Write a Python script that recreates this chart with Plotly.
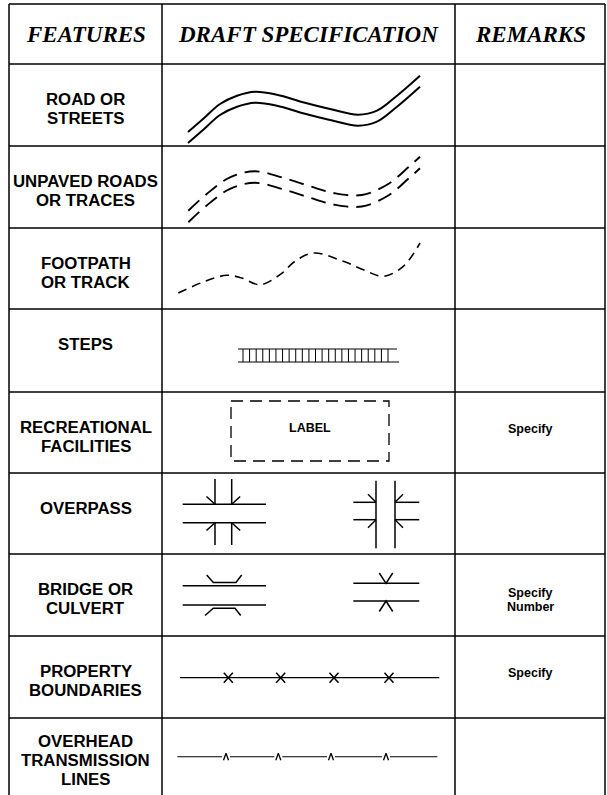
import plotly.graph_objects as go

# ---------------- data ----------------
HEADERS = ["FEATURES", "DRAFT SPECIFICATION", "REMARKS"]
FEATURES = [
    ["ROAD OR", "STREETS"],
    ["UNPAVED ROADS", "OR TRACES"],
    ["FOOTPATH", "OR TRACK"],
    ["STEPS"],
    ["RECREATIONAL", "FACILITIES"],
    ["OVERPASS"],
    ["BRIDGE OR", "CULVERT"],
    ["PROPERTY", "BOUNDARIES"],
    ["OVERHEAD", "TRANSMISSION", "LINES"],
]
REMARKS = [[], [], [], [], ["Specify"], [], ["Specify", "Number"], ["Specify"], []]
SYMBOLS = ["road", "unpaved", "footpath", "steps", "recreation",
           "overpass", "bridge", "property", "overhead"]
BOX_LABEL = "LABEL"

# ---------------- layout geometry (page pixels) ----------------
W, H = 607, 795
COL_X = [9, 162, 455, 605]
ROW_Y = [4, 64, 146, 228, 309, 392, 473, 554, 636, 718]
BOTTOM = 800

traces = []
shapes = []
annotations = []


def seg(x0, y0, x1, y1, w=1.4):
    shapes.append(dict(type="line", xref="x", yref="y", x0=x0, y0=y0, x1=x1, y1=y1,
                       line=dict(color="black", width=w)))


def poly(xs, ys, w=1.4, dash="solid", spline=False):
    traces.append(go.Scatter(x=xs, y=ys, mode="lines", hoverinfo="skip",
                             line=dict(color="black", width=w, dash=dash,
                                       shape="spline" if spline else "linear",
                                       smoothing=1.0)))


def text(x, y, s, size, family="Liberation Sans", color="black"):
    annotations.append(dict(x=x, y=y, xref="x", yref="y", text=s, showarrow=False,
                            xanchor="center", yanchor="middle",
                            font=dict(family=family, size=size, color=color)))


# ---- grid ----
for x in COL_X:
    seg(x, ROW_Y[0], x, BOTTOM, 1.5)
for y in ROW_Y:
    seg(COL_X[0], y, COL_X[-1], y, 1.5)

# ---- header ----
for i, h in enumerate(HEADERS):
    cx = (COL_X[i] + COL_X[i + 1]) / 2
    text(cx, 34.5, "<b><i>" + h + "</i></b>", 23, family="Liberation Serif")

# ---- feature labels & remarks ----
for r, lines in enumerate(FEATURES):
    top = ROW_Y[r + 1]
    cx = (COL_X[0] + COL_X[1]) / 2
    first = top + (23 if len(lines) > 2 else 35.5)
    for k, ln in enumerate(lines):
        text(cx, first + 19.3 * k, "<b>" + ln + "</b>", 16.8)
    rem = REMARKS[r]
    rx = (COL_X[2] + COL_X[3]) / 2
    if len(rem) == 1:
        text(rx, top + 36.5, "<b>" + rem[0] + "</b>", 12.5)
    elif len(rem) == 2:
        for k, ln in enumerate(rem):
            text(rx, top + 38.7 + 14.6 * k, "<b>" + ln + "</b>", 12.5)

# ---- symbols ----
ROAD_X = [188, 203, 220, 237, 255, 277, 303, 330, 358, 377, 397, 420]
ROAD_Y = [132, 119, 104, 95.7, 91.7, 94.7, 102.3, 109, 114.7, 110.7, 95.7, 75.7]
UNPAVED_X = [188.3, 206.7, 230, 255, 281.7, 308.3, 335, 361.7, 388.3, 408.3, 420]
UNPAVED_Y = [210.7, 194, 177.3, 171.3, 177.3, 185.7, 193.3, 195, 184, 167.3, 156.7]
FOOT_X = [178.3, 203.3, 226.7, 241.7, 260, 280, 295, 313.3, 343.3, 363.3, 383.3, 403.3, 420]
FOOT_Y = [293, 282, 275.3, 278, 284.7, 274.7, 261.3, 253, 261.3, 269.7, 276.3, 266.3, 243]

for name in SYMBOLS:
    if name == "road":
        poly(ROAD_X, ROAD_Y, 2.0, spline=True)
        poly(ROAD_X, [y + 11 for y in ROAD_Y], 2.0, spline=True)
    elif name == "unpaved":
        poly(UNPAVED_X, UNPAVED_Y, 1.9, dash="15px,8px", spline=True)
        poly(UNPAVED_X, [y + 11.5 for y in UNPAVED_Y], 1.9, dash="15px,8px", spline=True)
    elif name == "footpath":
        poly(FOOT_X, FOOT_Y, 1.6, dash="9px,6px", spline=True)
    elif name == "steps":
        y0, y1 = 349, 362
        seg(238, y0, 397, y0, 1.2)
        seg(238, y1, 399, y1, 1.2)
        n = 23
        xs, ys = [], []
        for i in range(n):
            x = 243 + i * (388 - 243) / (n - 1)
            xs += [x, x, None]
            ys += [y0, y1, None]
        poly(xs, ys, 1.0)
    elif name == "recreation":
        x0, x1, y0, y1 = 231, 389, 401, 461
        poly([x0, x1, x1, x0, x0], [y0, y0, y1, y1, y0], 1.3, dash="12px,7px")
        text((x0 + x1) / 2, 427.7, "<b>" + BOX_LABEL + "</b>", 12.5)
    elif name == "overpass":
        # left: horizontal road over vertical road
        ya, yb = 504.3, 522.7
        seg(182.7, ya, 266, ya, 1.5)
        seg(182.7, yb, 266, yb, 1.5)
        for x in (215, 231.7):
            seg(x, 479, x, ya, 1.5)
            seg(x, yb, x, 545, 1.5)
        poly([206.5, 215, None, 240.2, 231.7, None, 206.5, 215, None, 240.2, 231.7],
             [ya - 7.8, ya, None, ya - 7.8, ya, None, yb + 7.8, yb, None, yb + 7.8, yb], 1.5)
        # right: vertical road over horizontal road
        xa, xb = 376, 395
        ya, yb = 502.3, 519.7
        seg(xa, 480.7, xa, 548.3, 1.5)
        seg(xb, 480.7, xb, 548.3, 1.5)
        for y in (ya, yb):
            seg(353.3, y, xa, y, 1.5)
            seg(xb, y, 419.3, y, 1.5)
        poly([xa - 8, xa, None, xb + 8, xb, None, xa - 8, xa, None, xb + 8, xb],
             [ya - 8, ya, None, ya - 8, ya, None, yb + 8, yb, None, yb + 8, yb], 1.5)
    elif name == "bridge":
        ya, yb = 585.7, 605
        seg(182.7, ya, 266, ya, 1.5)
        seg(182.7, yb, 266, yb, 1.5)
        poly([206.7, 213.3, 236, 241.7], [575, 582.5, 582.5, 575], 1.5)
        poly([205, 213.3, 235, 240.7], [615.5, 608.2, 608.2, 615.5], 1.5)
        ya, yb = 583.3, 601
        seg(353.3, ya, 419.3, ya, 1.5)
        seg(353.3, yb, 419.3, yb, 1.5)
        poly([379.3, 386, 392.7], [573, ya, 573], 1.5)
        poly([379.3, 386, 392.7], [611.5, yb, 611.5], 1.5)
    elif name == "property":
        y = 677.7
        seg(180, y, 439.3, y, 1.2)
        xs, ys = [], []
        for cx in (228.3, 280.7, 334, 389):
            xs += [cx - 4.5, cx + 4.5, None, cx - 4.5, cx + 4.5, None]
            ys += [y - 5, y + 5, None, y + 5, y - 5, None]
        poly(xs, ys, 1.5)
    elif name == "overhead":
        y = 756.7
        marks = [226, 278.3, 331, 386]
        xs, ys = [177.3], [y]
        for cx in marks:
            xs += [cx - 4, None, cx + 4]
            ys += [y, None, y]
        xs += [437.3]
        ys += [y]
        poly(xs, ys, 1.1)
        cx_, cy_ = [], []
        for cx in marks:
            cx_ += [cx - 2.5, cx, cx + 2.5, None]
            cy_ += [y + 3.5, y - 3.5, y + 3.5, None]
        poly(cx_, cy_, 1.3)

fig = go.Figure(traces)
fig.update_layout(
    width=W, height=H, autosize=False,
    margin=dict(l=0, r=0, t=0, b=0),
    paper_bgcolor="white", plot_bgcolor="white",
    showlegend=False,
    xaxis=dict(range=[0, W], visible=False, fixedrange=True),
    yaxis=dict(range=[H, 0], visible=False, fixedrange=True),
    shapes=shapes, annotations=annotations,
)
fig.write_html("out.html", config={"displayModeBar": False},
               post_script="document.body.style.margin='0';document.body.style.overflow='hidden';")
